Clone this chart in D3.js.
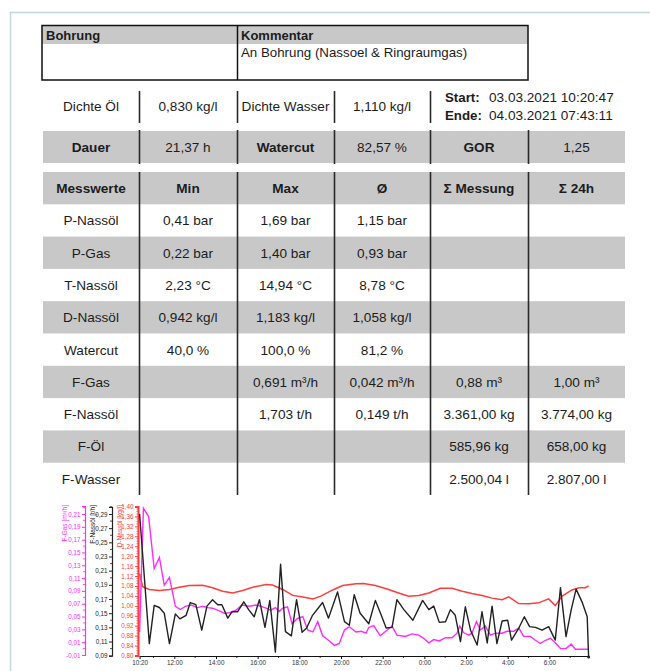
<!DOCTYPE html>
<html><head><meta charset="utf-8">
<script src="https://cdn.jsdelivr.net/npm/d3@7"></script>
<style>
html,body{margin:0;padding:0;background:#fff;}
svg{display:block;font-family:"Liberation Sans",Arial,sans-serif;}
</style></head>
<body><svg id="c" width="650" height="671"></svg>
<script>
// ---------- table data ----------
const headerLabels = ["Bohrung", "Kommentar"];
const commentText = "An Bohrung (Nassoel & Ringraumgas)";
const densityRow = ["Dichte Öl", "0,830 kg/l", "Dichte Wasser", "1,110 kg/l"];
const startEnd = [["Start:", "03.03.2021 10:20:47"], ["Ende:", "04.03.2021 07:43:11"]];
const summaryRow = ["Dauer", "21,37 h", "Watercut", "82,57 %", "GOR", "1,25"];
const measHeader = ["Messwerte", "Min", "Max", "Ø", "Σ Messung", "Σ 24h"];
const measNames = ["P-Nassöl", "P-Gas", "T-Nassöl", "D-Nassöl", "Watercut", "F-Gas", "F-Nassöl", "F-Öl", "F-Wasser"];
const measMin = ["0,41 bar", "0,22 bar", "2,23 °C", "0,942 kg/l", "40,0 %", "", "", "", ""];
const measMax = ["1,69 bar", "1,40 bar", "14,94 °C", "1,183 kg/l", "100,0 %", "0,691 m³/h", "1,703 t/h", "", ""];
const measAvg = ["1,15 bar", "0,93 bar", "8,78 °C", "1,058 kg/l", "81,2 %", "0,042 m³/h", "0,149 t/h", "", ""];
const measSum = ["", "", "", "", "", "0,88 m³", "3.361,00 kg", "585,96 kg", "2.500,04 l"];
const meas24 = ["", "", "", "", "", "1,00 m³", "3.774,00 kg", "658,00 kg", "2.807,00 l"];

// ---------- chart data ----------
const xTickLabels = ["10:20", "12:00", "14:00", "16:00", "18:00", "20:00", "22:00", "0:00", "2:00", "4:00", "6:00"];
const xStart = "10:20", xEnd = "7:53";
const dNassolTicks = [0.80,0.84,0.88,0.92,0.96,1.00,1.04,1.08,1.12,1.16,1.20,1.24,1.28,1.32,1.36,1.40];
const fNassolTicks = [0.09,0.11,0.13,0.15,0.17,0.19,0.21,0.23,0.25,0.27,0.29];
const fGasTicks = [-0.01,0.01,0.03,0.05,0.07,0.09,0.11,0.13,0.15,0.17,0.19,0.21];

const dNassol = [["10:20",1.13],["10:29",1.077],["10:48",1.066],["11:17",1.062],["11:46",1.066],["12:14",1.075],["12:43",1.082],["13:22",1.083],["13:50",1.073],["14:19",1.059],["14:48",1.052],["15:17",1.062],["15:46",1.075],["16:24",1.086],["16:43",1.084],["17:12",1.066],["17:41",1.042],["18:10",1.036],["18:39",1.028],["19:02",1.039],["19:36",1.064],["20:05",1.082],["20:43",1.089],["21:05",1.09],["21:39",1.082],["22:17",1.066],["22:46",1.052],["23:15",1.039],["23:44",1.042],["0:13",1.052],["0:46",1.071],["1:20",1.071],["1:49",1.059],["2:17",1.050],["2:46",1.042],["3:15",1.031],["3:44",1.025],["4:03",1.036],["4:32",1.009],["5:01",1.008],["5:29",1.012],["5:58",1.028],["6:17",1.001],["6:37",1.039],["7:05",1.064],["7:25",1.073],["7:44",1.073],["7:53",1.08]];

const fNassol = [["10:20",0.29],["10:48",0.107],["11:02",0.161],["11:17",0.158],["11:31",0.150],["11:46",0.107],["12:03",0.149],["12:16",0.142],["12:34",0.147],["12:46",0.165],["13:02",0.162],["13:19",0.126],["13:34",0.160],["13:50",0.169],["14:05",0.162],["14:17",0.162],["14:34",0.143],["14:46",0.152],["15:02",0.152],["15:20",0.166],["15:34",0.155],["15:50",0.145],["16:05",0.169],["16:21",0.130],["16:35",0.168],["16:51",0.095],["17:06",0.219],["17:20",0.124],["17:37",0.118],["17:52",0.169],["18:08",0.123],["18:21",0.129],["18:38",0.147],["19:07",0.165],["19:24",0.143],["19:50",0.180],["20:10",0.138],["20:24",0.133],["20:38",0.176],["20:55",0.150],["21:20",0.135],["21:39",0.168],["21:56",0.147],["22:10",0.129],["22:27",0.130],["22:41",0.169],["23:01",0.155],["23:27",0.140],["23:55",0.168],["0:13",0.155],["0:27",0.160],["0:43",0.137],["1:01",0.138],["1:15",0.155],["1:29",0.147],["1:44",0.110],["1:58",0.159],["2:13",0.126],["2:32",0.105],["2:46",0.152],["3:01",0.108],["3:15",0.160],["3:29",0.107],["3:44",0.139],["4:00",0.140],["4:11",0.112],["4:32",0.129],["4:48",0.145],["5:03",0.131],["5:20",0.130],["5:39",0.126],["5:58",0.131],["6:17",0.112],["6:32",0.186],["6:48",0.117],["7:03",0.155],["7:17",0.184],["7:34",0.166],["7:49",0.145],["7:53",0.088]];

const fGas = [["10:20",0.026],["10:31",0.219],["10:46",0.206],["11:02",0.125],["11:17",0.142],["11:31",0.099],["11:46",0.111],["12:03",0.066],["12:17",0.061],["12:32",0.066],["12:48",0.068],["13:07",0.064],["13:22",0.066],["13:36",0.064],["13:50",0.063],["14:10",0.059],["14:24",0.055],["14:39",0.056],["14:58",0.060],["15:15",0.068],["15:36",0.066],["15:55",0.068],["16:10",0.066],["16:24",0.063],["16:38",0.060],["16:51",0.064],["17:02",0.058],["17:12",0.063],["17:26",0.065],["17:39",0.039],["17:55",0.047],["18:10",0.050],["18:24",0.029],["18:39",0.026],["18:53",0.042],["19:07",0.020],["19:24",0.013],["19:41",0.005],["19:55",0.008],["20:10",0.029],["20:24",0.034],["20:43",0.026],["20:58",0.027],["21:12",0.024],["21:20",0.033],["21:34",0.036],["21:53",0.020],["22:13",0.029],["22:27",0.035],["22:41",0.021],["23:05",0.019],["23:25",0.023],["23:44",0.021],["23:58",0.016],["0:13",0.009],["0:27",0.014],["0:43",0.012],["1:01",0.017],["1:20",0.017],["1:34",0.024],["1:42",0.035],["1:53",0.025],["2:08",0.021],["2:17",0.024],["2:30",0.042],["2:41",0.029],["2:56",0.035],["3:10",0.021],["3:25",0.024],["3:44",0.024],["3:58",0.027],["4:17",0.027],["4:32",0.032],["4:46",0.019],["5:05",0.019],["5:20",0.013],["5:34",0.008],["5:49",0.013],["6:03",0.016],["6:17",0.009],["6:32",0.000],["6:48",0.000],["7:03",0.007],["7:15",-0.001],["7:53",-0.001]];

// ---------- helpers ----------
const svg = d3.select("#c");
const FONT = '"Liberation Sans",Arial,sans-serif';
const GRAY = "#c8c8c8";
const TXT = "#1c1c1c";
const LINEC = "#2a2a2a";
const loc = d3.formatLocale({decimal: ",", thousands: ".", grouping: [3], currency: ["", "€"], minus: "-"});
const f2 = loc.format(".2f");
function toMin(s) {
  const [h, m] = s.split(":").map(Number);
  let v = h * 60 + m - 620;
  if (v < 0) v += 1440;
  return v;
}

// page frame
svg.append("line").attr("x1", 10).attr("x2", 650).attr("y1", 12.5).attr("y2", 12.5).attr("stroke", "#c6d6da").attr("stroke-width", 1.5);
svg.append("line").attr("x1", 10.5).attr("x2", 10.5).attr("y1", 12).attr("y2", 671).attr("stroke", "#c6d6da").attr("stroke-width", 1.5);

// ---------- header box ----------
svg.append("rect").attr("x", 42).attr("y", 25.5).attr("width", 486).attr("height", 18.5).attr("fill", GRAY);
svg.append("rect").attr("x", 42).attr("y", 25.5).attr("width", 486).attr("height", 54.5).attr("fill", "none").attr("stroke", "#111").attr("stroke-width", 1.5);
svg.append("line").attr("x1", 237.5).attr("x2", 237.5).attr("y1", 25.5).attr("y2", 80).attr("stroke", "#111").attr("stroke-width", 1.5);
svg.selectAll("text.hdr").data(headerLabels).join("text").attr("class", "hdr")
  .attr("x", (d, i) => i === 0 ? 46 : 241).attr("y", 39.5)
  .attr("font-size", 13).attr("font-weight", "bold").attr("fill", TXT).text(d => d);
svg.append("text").attr("x", 241).attr("y", 57).attr("font-size", 13.3).attr("fill", TXT).text(commentText);

const colX = [43, 139, 237, 334, 430, 528, 625];
const colC = i => (colX[i] + colX[i + 1]) / 2;

function vDividers(xs, y1, y2) {
  svg.append("g").selectAll("line").data(xs).join("line")
    .attr("x1", d => d + 0.5).attr("x2", d => d + 0.5).attr("y1", y1).attr("y2", y2)
    .attr("stroke", LINEC).attr("stroke-width", 1.6);
}

// density row
svg.append("g").selectAll("text").data(densityRow).join("text")
  .attr("x", (d, i) => colC(i)).attr("y", 106).attr("dy", "0.36em").attr("text-anchor", "middle")
  .attr("font-size", 13.6).attr("fill", TXT).text(d => d);
vDividers([139, 237, 334, 430], 91, 123);
startEnd.forEach((r, i) => {
  svg.append("text").attr("x", 445).attr("y", 97 + i * 18).attr("dy", "0.36em").attr("font-size", 13.3).attr("font-weight", "bold").attr("fill", TXT).text(r[0]);
  svg.append("text").attr("x", 489).attr("y", 97 + i * 18).attr("dy", "0.36em").attr("font-size", 13.6).attr("fill", TXT).text(r[1]);
});

// summary row
svg.append("rect").attr("x", 43).attr("y", 131).attr("width", 582).attr("height", 32).attr("fill", GRAY);
svg.append("g").selectAll("text").data(summaryRow).join("text")
  .attr("x", (d, i) => colC(i)).attr("y", 147).attr("dy", "0.36em").attr("text-anchor", "middle")
  .attr("font-size", 13.6).attr("font-weight", (d, i) => i % 2 === 0 ? "bold" : "normal").attr("fill", TXT).text(d => d);
vDividers([139, 237, 334, 430, 528], 130, 164);

// measurement table
const tTop = 172, rowH = 32.3;
const allRows = [measHeader].concat(measNames.map((n, i) => [n, measMin[i], measMax[i], measAvg[i], measSum[i], meas24[i]]));
const rowG = svg.append("g").selectAll("g").data(allRows).join("g")
  .attr("transform", (d, i) => `translate(0,${tTop + i * rowH})`);
rowG.filter((d, i) => i % 2 === 0).append("rect").attr("x", 43).attr("y", 0).attr("width", 582).attr("height", rowH).attr("fill", GRAY);
rowG.each(function (row, ri) {
  d3.select(this).selectAll("text").data(row).join("text")
    .attr("x", (d, i) => colC(i)).attr("y", rowH / 2).attr("dy", "0.36em").attr("text-anchor", "middle")
    .attr("font-size", 13.6).attr("font-weight", ri === 0 ? "bold" : "normal").attr("fill", TXT).text(d => d);
});
vDividers([139, 237, 334, 430, 528], tTop, tTop + rowH * allRows.length);

// ---------- chart ----------
const x = d3.scaleLinear().domain([toMin(xStart), toMin(xEnd)]).range([139.6, 588.6]);
const yRed = d3.scaleLinear().domain([0.80, 1.40]).range([655.5, 506.5]);
const yBlack = d3.scaleLinear().domain([0.09, 0.30]).range([655.7, 506.9]);
const yMag = d3.scaleLinear().domain([-0.01, 0.2225]).range([655, 506]);
const RED = "#ff3d3d", MAG = "#ff2bff", BLK = "#222";
const chartFont = 6.3;

function styleAxis(g, color, width) {
  g.select(".domain").attr("stroke", color).attr("stroke-width", width);
  g.selectAll(".tick line").attr("stroke", color);
  g.selectAll(".tick text").attr("fill", color).attr("font-size", chartFont).attr("font-family", FONT);
}

// minor ticks helper
function minorTicks(scale, vals, xPos, color, len) {
  svg.append("g").selectAll("line").data(vals).join("line")
    .attr("x1", xPos - len).attr("x2", xPos).attr("y1", d => scale(d)).attr("y2", d => scale(d))
    .attr("stroke", color).attr("stroke-width", 0.8);
}

// magenta axis (F-Gas)
const gMag = svg.append("g").attr("transform", "translate(85,0)")
  .call(d3.axisLeft(yMag).tickValues(fGasTicks).tickFormat(f2).tickSize(3).tickPadding(1.5));
styleAxis(gMag, MAG, 1.2);
minorTicks(yMag, fGasTicks.slice(0, -1).map(v => v + 0.01).concat([0.22]), 85, MAG, 2);
// black axis (F-Nassöl)
const gBlk = svg.append("g").attr("transform", "translate(112,0)")
  .call(d3.axisLeft(yBlack).tickValues(fNassolTicks).tickFormat(f2).tickSize(3).tickPadding(1.5));
styleAxis(gBlk, BLK, 1.2);
minorTicks(yBlack, fNassolTicks.map(v => v + 0.01), 112, BLK, 2);
// red axis (D-Nassöl)
const gRed = svg.append("g").attr("transform", "translate(138,0)")
  .call(d3.axisLeft(yRed).tickValues(dNassolTicks).tickFormat(f2).tickSize(3).tickPadding(1.5));
styleAxis(gRed, RED, 2);
minorTicks(yRed, d3.range(0.81, 1.40, 0.01).filter(v => Math.abs(v * 100 % 4) > 0.5 && Math.abs(v * 100 % 4) < 3.5), 138, RED, 1.5);

// axis titles
[["F-Gas [m³/h]", 66.5, MAG], ["F-Nassöl [t/h]", 94.5, BLK], ["D-Nassöl [kg/l]", 121.5, RED]].forEach(([t, xp, c]) => {
  svg.append("text").attr("transform", `translate(${xp},505) rotate(-90)`).attr("text-anchor", "end")
    .attr("font-size", 6.5).attr("fill", c).text(t);
});

// x axis
const gX = svg.append("g").attr("transform", "translate(0,656)")
  .call(d3.axisBottom(x).tickValues(xTickLabels.map(toMin)).tickFormat((d, i) => xTickLabels[i]).tickSize(3).tickPadding(1.5).tickSizeOuter(0));
gX.select(".domain").attr("stroke", "#111").attr("stroke-width", 1.2);
gX.selectAll(".tick line").attr("stroke", "#111");
gX.selectAll(".tick text").attr("fill", "#333").attr("font-size", chartFont).attr("font-family", FONT);
const hourTicks = d3.range(60 - 20, toMin(xEnd), 60).filter(m => !xTickLabels.map(toMin).includes(m));
svg.append("g").selectAll("line").data(hourTicks).join("line")
  .attr("x1", d => x(d)).attr("x2", d => x(d)).attr("y1", 656).attr("y2", 658)
  .attr("stroke", "#111").attr("stroke-width", 0.8);

// series
const mk = (ys) => d3.line().x(d => x(toMin(d[0]))).y(d => ys(d[1]));
svg.append("path").datum(dNassol).attr("d", mk(yRed)).attr("fill", "none").attr("stroke", RED).attr("stroke-width", 1.5);
svg.append("path").datum(fGas).attr("d", mk(yMag)).attr("fill", "none").attr("stroke", MAG).attr("stroke-width", 1.4);
svg.append("path").datum(fNassol).attr("d", mk(yBlack)).attr("fill", "none").attr("stroke", BLK).attr("stroke-width", 1.4).attr("stroke-linejoin", "round");
svg.append("circle").attr("cx", x(toMin(xEnd))).attr("cy", yBlack(0.088)).attr("r", 1.5).attr("fill", BLK);
</script>
</body></html>
